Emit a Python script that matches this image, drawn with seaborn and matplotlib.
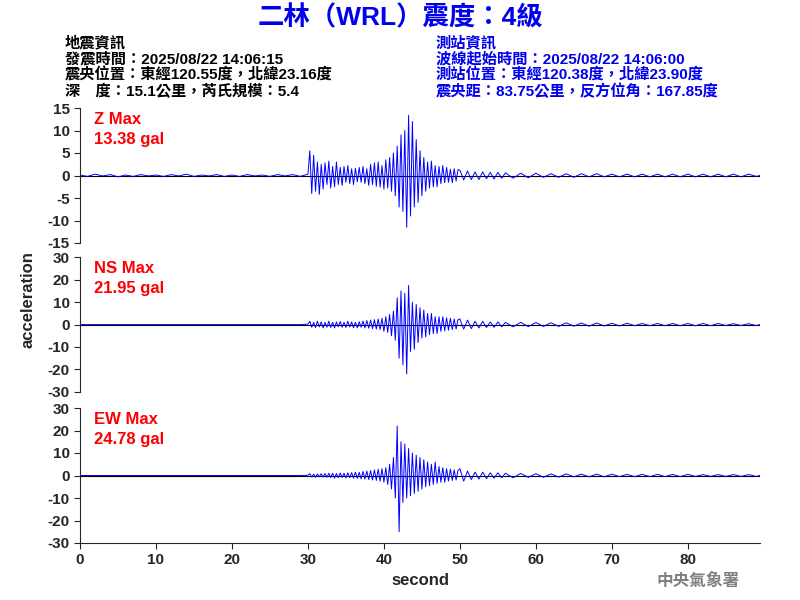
import matplotlib
matplotlib.use("Agg")
import matplotlib.pyplot as plt
import seaborn as sns
import pandas as pd

# hand-read wave peaks (second, gal)
pre_t = [0, 1, 2, 3, 4, 5, 6, 7, 8, 9, 10, 11, 12, 13, 14, 15, 16, 17, 18, 19,
         20, 21, 22, 23, 24, 25, 26, 27, 28, 29]
z_pre = [0.1, -0.2, 0.3, -0.1, 0.2, -0.3, 0.1, -0.2, 0.2, -0.1, 0.1, -0.2, 0.2, -0.1, 0.3,
         -0.2, 0.1, -0.1, 0.2, -0.2, 0.1, -0.2, 0.2, -0.1, 0.1, -0.2, 0.2, -0.1, 0.2, -0.2]
ns_pre = [0.0] * 30
ew_pre = [0.0] * 30

main_t = [30.0, 30.25, 30.5, 30.75, 31.0, 31.25, 31.5, 31.75, 32.0, 32.25,
          32.5, 32.75, 33.0, 33.25, 33.5, 33.75, 34.0, 34.25, 34.5, 34.75,
          35.0, 35.25, 35.5, 35.75, 36.0, 36.25, 36.5, 36.75, 37.0, 37.25,
          37.5, 37.75, 38.0, 38.25, 38.5, 38.75, 39.0, 39.25, 39.5, 39.75,
          40.0, 40.25, 40.5, 40.75, 41.0, 41.25, 41.5, 41.75, 42.0, 42.25,
          42.5, 42.75, 43.0, 43.25, 43.5, 43.75, 44.0, 44.25, 44.5, 44.75,
          45.0, 45.25, 45.5, 45.75, 46.0, 46.25, 46.5, 46.75, 47.0, 47.25,
          47.5, 47.75, 48.0, 48.25, 48.5, 48.75, 49.0, 49.25, 49.5, 49.75]
z_main = [0.3, 5.5, -4.0, 4.5, -3.5, 3.0, -4.2, 2.5, -3.0, 2.8,
          -2.0, 3.2, -2.8, 2.0, -2.5, 3.0, -2.0, 1.8, -2.2, 2.0,
          -1.5, 2.2, -1.8, 1.5, -2.0, 1.6, -1.4, 1.8, -1.5, 2.0,
          -1.8, 1.5, -2.2, 2.5, -2.0, 2.8, -2.4, 3.0, -2.6, 2.2,
          -3.0, 3.5, -2.8, 4.0, -3.5, 5.0, -4.5, 6.5, -7.0, 9.0,
          -8.0, 10.0, -11.5, 13.4, -9.0, 12.0, -7.0, 8.0, -6.0, 5.5,
          -4.5, 4.0, -3.5, 3.0, -2.8, 3.2, -2.5, 2.2, -2.5, 2.0,
          -1.8, 2.2, -1.6, 1.8, -1.5, 1.4, -1.6, 1.5, -1.2, 1.3]
ns_main = [0.2, 1.5, -1.2, 1.0, -1.3, 1.5, -1.0, 1.2, -1.5, 1.0,
           -1.2, 1.5, -1.3, 1.0, -1.5, 1.2, -1.0, 1.4, -1.2, 1.0,
           -1.3, 1.5, -1.1, 1.2, -1.4, 1.0, -1.5, 1.3, -1.2, 1.6,
           -1.5, 1.8, -1.6, 2.0, -1.8, 2.2, -2.0, 2.5, -2.2, 2.8,
           -3.0, 3.5, -3.5, 4.5, -5.0, 6.0, -7.0, 12.0, -15.0, 15.0,
           -18.0, 14.0, -22.0, 17.5, -12.0, 10.0, -11.0, 9.0, -8.0, 7.5,
           -6.0, 6.5, -5.5, 5.0, -4.5, 5.0, -4.0, 3.5, -4.0, 3.5,
           -3.0, 3.5, -2.8, 3.0, -2.5, 2.8, -2.2, 2.5, -2.0, 2.2]
ew_main = [0.1, 0.8, -0.7, 0.6, -0.8, 0.7, -0.6, 0.8, -0.7, 0.9,
           -0.8, 1.0, -0.9, 1.0, -1.2, 0.9, -1.0, 1.1, -0.9, 1.0,
           -1.1, 1.2, -1.0, 1.3, -1.2, 1.5, -1.3, 1.4, -1.5, 1.8,
           -1.6, 2.0, -1.8, 2.2, -2.0, 2.5, -2.2, 2.8, -2.5, 3.0,
           -3.0, 3.5, -4.0, 5.0, -6.0, 8.0, -10.0, 22.0, -25.0, 15.0,
           -12.0, 14.0, -10.0, 12.0, -9.0, 10.0, -8.0, 9.0, -7.0, 8.0,
           -6.0, 7.0, -5.0, 6.0, -4.5, 5.0, -4.0, 6.0, -3.5, 4.0,
           -3.0, 3.5, -3.0, 3.0, -2.5, 2.8, -2.2, 2.5, -2.0, 2.2]

post_t = [50, 50.5, 51, 51.5, 52, 52.5, 53, 53.5, 54, 54.5, 55, 55.5, 56, 57, 58, 59,
          60, 61, 62, 63, 64, 65, 66, 67, 68, 69, 70, 71, 72, 73, 74, 75, 76, 77, 78,
          79, 80, 81, 82, 83, 84, 85, 86, 87, 88, 89, 89.5]
z_post = [1.2, -1.0, 1.0, -0.9, 0.8, -0.9, 0.8, -0.7, 0.7, -0.8, 0.7, -0.6, 0.6, -0.6,
          0.5, -0.5, 0.5, -0.4, 0.4, -0.4, 0.4, -0.4, 0.4, -0.3, 0.4, -0.3, 0.3, -0.3,
          0.3, -0.3, 0.3, -0.3, 0.3, -0.3, 0.3, -0.3, 0.3, -0.3, 0.3, -0.3, 0.3, -0.3,
          0.3, -0.3, 0.3, -0.2, 0.0]
ns_post = [2.5, -2.0, 2.0, -1.8, 1.5, -1.5, 1.5, -1.3, 1.2, -1.2, 1.2, -1.0, 1.0, -1.0,
           1.0, -0.9, 0.9, -0.8, 0.8, -0.8, 0.8, -0.7, 0.7, -0.7, 0.7, -0.6, 0.6, -0.6,
           0.6, -0.5, 0.5, -0.5, 0.5, -0.5, 0.5, -0.5, 0.5, -0.5, 0.5, -0.5, 0.5, -0.4,
           0.4, -0.4, 0.4, -0.4, 0.0]
ew_post = [3.0, -2.5, 2.0, -1.8, 1.5, -1.6, 1.5, -1.4, 1.2, -1.2, 1.2, -1.0, 1.0, -1.0,
           0.9, -0.8, 0.8, -0.8, 0.7, -0.7, 0.7, -0.6, 0.6, -0.6, 0.6, -0.6, 0.6, -0.5,
           0.5, -0.5, 0.5, -0.5, 0.5, -0.5, 0.5, -0.5, 0.5, -0.4, 0.4, -0.4, 0.4, -0.4,
           0.4, -0.4, 0.4, -0.4, 0.0]

channels = ["Z", "NS", "EW"]
max_gal = [13.38, 21.95, 24.78]
ylims = [15, 30, 30]
ysteps = [5, 10, 10]

sns.set_style("white")
plt.rcParams["font.family"] = ["Liberation Sans", "Noto Sans CJK TC", "DejaVu Sans"]
plt.rcParams["font.weight"] = "bold"
plt.rcParams["axes.unicode_minus"] = False

fig = plt.figure(figsize=(8, 6), dpi=100)
boxes = [[0.1, 0.595, 0.85, 0.225], [0.1, 0.347, 0.85, 0.224], [0.1, 0.095, 0.85, 0.225]]
series = [z_pre + z_main + z_post, ns_pre + ns_main + ns_post, ew_pre + ew_main + ew_post]
t_all = pre_t + main_t + post_t

for i, name in enumerate(channels):
    ax = fig.add_axes(boxes[i])
    df = pd.DataFrame({"t": t_all, "a": series[i]})
    ax.axhline(0, color="black", lw=0.8)
    sns.lineplot(data=df, x="t", y="a", ax=ax, color="blue", lw=0.7, estimator=None, sort=False)
    lim = ylims[i]
    ax.set_ylim(-lim, lim)
    ax.set_yticks(range(-lim, lim + 1, ysteps[i]))
    ax.set_xlim(0, 89.5)
    ax.set_xlabel("")
    ax.set_ylabel("")
    for s in ["top", "right"]:
        ax.spines[s].set_visible(False)
    ax.tick_params(axis="y", left=True, length=4, labelsize=11)
    if i < 2:
        ax.spines["bottom"].set_visible(False)
        ax.set_xticks([])
    else:
        ax.set_xticks(range(0, 90, 10))
        ax.tick_params(axis="x", bottom=True, length=4, labelsize=11)
        ax.set_xlabel("second", fontsize=12, fontweight="bold")
    ax.text(0.02, 0.97, f"{name} Max\n{max_gal[i]:.2f} gal", transform=ax.transAxes,
            color="red", fontsize=12, va="top", linespacing=1.4)

fig.text(0.035, 0.5, "acceleration", rotation=90, ha="center", va="center", fontsize=12)
fig.text(0.5, 0.97, "二林（WRL）震度：4級", color="#0000ee", fontsize=19, ha="center", va="center")

left_lines = ["地震資訊", "發震時間：2025/08/22 14:06:15",
              "震央位置：東經120.55度，北緯23.16度", "深　度：15.1公里，芮氏規模：5.4"]
right_lines = ["測站資訊", "波線起始時間：2025/08/22 14:06:00",
               "測站位置：東經120.38度，北緯23.90度", "震央距：83.75公里，反方位角：167.85度"]
for j in range(4):
    y = 1 - (43 + 16 * j) / 600
    fig.text(0.081, y, left_lines[j], color="black", fontsize=11, va="center")
    fig.text(0.545, y, right_lines[j], color="#0000ee", fontsize=11, va="center")

fig.text(0.82, 0.032, "中央氣象署", color="gray", fontsize=12, va="center")

fig.savefig("out.png", dpi=100)
